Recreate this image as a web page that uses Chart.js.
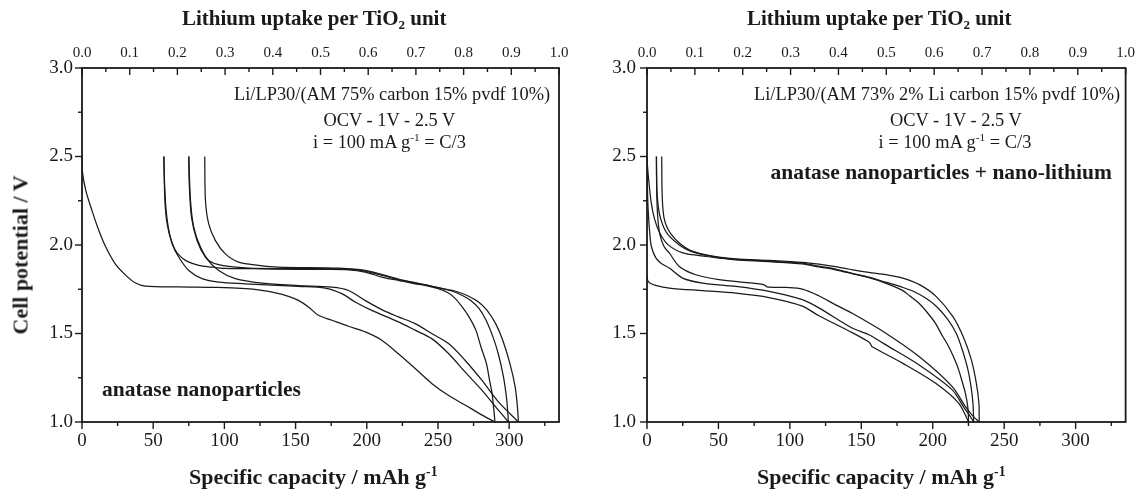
<!DOCTYPE html>
<html>
<head>
<meta charset="utf-8">
<title>Anatase TiO2 galvanostatic cycling</title>
<script src="https://cdn.jsdelivr.net/npm/chart.js@4.4.0/dist/chart.umd.min.js"></script>
<style>
  body { margin: 0; background: #fff; }
  #wrap { position: relative; width: 1141px; height: 494px; overflow: hidden;
          font-family: 'Liberation Serif', 'Times New Roman', serif; color: #1a1a1a; }
  canvas { position: absolute; left: 0; top: 0; }
  .lbl { position: absolute; white-space: nowrap; line-height: 1; }
  .lbl sub, .lbl sup { font-size: 0.62em; line-height: 0; }
  .lbl sub { vertical-align: -0.3em; }
  .lbl sup { vertical-align: 0.6em; }
</style>
</head>
<body>
<div id="wrap">
  <canvas id="leftChart" width="1141" height="494"></canvas>
  <canvas id="rightChart" width="1141" height="494"></canvas>
</div>
<script>
// --- Axis ranges / tick labels ---
const capacityMax = 335;               // 1 Li per TiO2 = 335 mAh/g
const capacityTicks = [0, 50, 100, 150, 200, 250, 300];
const uptakeTicks = [0.0, 0.1, 0.2, 0.3, 0.4, 0.5, 0.6, 0.7, 0.8, 0.9, 1.0];
const voltTicks = [1.0, 1.5, 2.0, 2.5, 3.0];

// --- Left panel: anatase nanoparticles (discharge D, charge C) ---
const leftD1Cap  = [0, 0.2, 2.6, 7.2, 11.9, 16.6, 23.6, 30.6, 37.6, 44.6, 68, 95, 115, 125, 136, 145, 152, 159, 166, 175.5, 187, 199, 210.5, 222, 234, 245.6, 257, 269, 281, 290];
const leftD1Volt = [2.5, 2.42, 2.31, 2.19, 2.08, 1.99, 1.89, 1.83, 1.785, 1.768, 1.763, 1.760, 1.753, 1.745, 1.73, 1.71, 1.687, 1.65, 1.603, 1.575, 1.541, 1.509, 1.462, 1.387, 1.302, 1.218, 1.152, 1.096, 1.039, 1.0];

const leftC1Cap  = [290, 289.6, 289, 288, 286.2, 284, 280.2, 276.6, 271.8, 267, 262.2, 257.4, 250.2, 240.9, 233.9, 222.2, 210.5, 198.8, 187.2, 170, 152, 120, 100, 91.4, 82, 72.7, 65.7, 61.5, 59.1, 58, 57.5];
const leftC1Volt = [1.0, 1.04, 1.086, 1.162, 1.237, 1.331, 1.424, 1.519, 1.594, 1.650, 1.697, 1.729, 1.753, 1.772, 1.781, 1.800, 1.819, 1.847, 1.860, 1.862, 1.862, 1.866, 1.868, 1.875, 1.885, 1.913, 1.969, 2.063, 2.194, 2.345, 2.5];

const leftD2Cap  = [57.5, 58.2, 59.8, 63.3, 68, 75, 84.3, 96, 114.7, 152, 170.8, 182.5, 191.8, 203.5, 222.2, 233.9, 245.6, 257.4, 269, 280.8, 290.5, 299.5];
const leftD2Volt = [2.5, 2.251, 2.119, 2.007, 1.931, 1.856, 1.810, 1.790, 1.781, 1.766, 1.757, 1.725, 1.678, 1.631, 1.566, 1.519, 1.471, 1.387, 1.283, 1.180, 1.086, 1.0];

const leftC2Cap  = [299.5, 298.3, 296, 292.3, 288.6, 283.8, 278.9, 272.8, 266.8, 259.7, 250.2, 240.9, 222.2, 198.8, 187.2, 152, 120, 114.7, 98.4, 89, 83.2, 78.5, 76.2, 75];
const leftC2Volt = [1.0, 1.124, 1.255, 1.387, 1.481, 1.575, 1.641, 1.688, 1.716, 1.740, 1.759, 1.774, 1.804, 1.853, 1.864, 1.866, 1.868, 1.871, 1.885, 1.913, 1.988, 2.100, 2.251, 2.5];

const leftD3Cap  = [75, 75.3, 76.9, 80.8, 86.7, 96, 107.7, 126.4, 152, 175.5, 187.2, 198.8, 210.5, 222.2, 233.9, 245.6, 257.4, 269, 280.8, 292.5, 306.5];
const leftD3Volt = [2.5, 2.35, 2.157, 2.025, 1.931, 1.856, 1.810, 1.785, 1.771, 1.762, 1.743, 1.687, 1.635, 1.594, 1.556, 1.500, 1.443, 1.349, 1.236, 1.114, 1.0];

const leftC3Cap  = [306.5, 305.8, 304.2, 300.5, 295.5, 290.5, 284.5, 278.5, 271.2, 261.9, 250.2, 240.9, 222.2, 198.8, 180.1, 138.1, 124.1, 110, 100.7, 93.7, 89, 86.7, 86.2];
const leftC3Volt = [1.0, 1.086, 1.199, 1.331, 1.462, 1.556, 1.631, 1.678, 1.712, 1.740, 1.759, 1.776, 1.808, 1.857, 1.869, 1.875, 1.885, 1.903, 1.950, 2.025, 2.119, 2.251, 2.5];

// --- Right panel: anatase nanoparticles + nano-lithium ---
const rightD1Cap  = [0, 0.5, 2, 6, 15.6, 38.9, 62.2, 85.4, 108.7, 120.3, 143.6, 155.3, 156.5, 157.6, 178.5, 201.8, 218.1, 225.1];
const rightD1Volt = [1.83, 1.80, 1.785, 1.772, 1.757, 1.742, 1.728, 1.703, 1.655, 1.60, 1.505, 1.452, 1.44, 1.425, 1.334, 1.22, 1.107, 1.0];

const rightC1Cap  = [225.1, 224.6, 222.8, 220.5, 218.1, 215, 211.1, 206.5, 201.8, 196, 190.2, 184, 178.5, 166.9, 155.3, 143.6, 132, 120.3, 108.7, 85.4, 62.2, 50.5, 41.5, 25.2, 14.7, 8.9, 5.4, 3, 1.4, 0.4, 0];
const rightC1Volt = [1.0, 1.08, 1.164, 1.23, 1.296, 1.36, 1.427, 1.49, 1.559, 1.62, 1.672, 1.712, 1.745, 1.785, 1.815, 1.838, 1.86, 1.876, 1.893, 1.906, 1.916, 1.926, 1.935, 1.955, 2.002, 2.068, 2.143, 2.237, 2.35, 2.44, 2.5];

const rightD2Cap  = [0, 0.3, 0.8, 2, 3.1, 6, 10, 15.6, 24.9, 38.9, 62.2, 85.4, 108.7, 120.3, 143.6, 155.3, 166.9, 190.2, 213.5, 222, 226, 228.6];
const rightD2Volt = [2.5, 2.33, 2.2, 2.06, 1.99, 1.93, 1.895, 1.870, 1.813, 1.785, 1.766, 1.738, 1.691, 1.645, 1.531, 1.493, 1.437, 1.324, 1.183, 1.08, 1.035, 1.0];

const rightC2Cap  = [228.6, 228.2, 226.8, 224.5, 221, 216.5, 210.5, 203, 195, 186, 178.5, 166.9, 155.3, 143.6, 132, 120.3, 108.7, 85.4, 62.2, 50.5, 38.9, 29.5, 22.6, 15.6, 12.2, 9.5, 8, 7, 6.7, 6.6];
const rightC2Volt = [1.0, 1.1, 1.2, 1.3, 1.4, 1.5, 1.58, 1.65, 1.70, 1.74, 1.762, 1.79, 1.818, 1.84, 1.864, 1.88, 1.897, 1.909, 1.919, 1.929, 1.946, 1.968, 2.0, 2.05, 2.09, 2.15, 2.21, 2.3, 2.4, 2.5];

const rightD3Cap  = [6.6, 6.8, 7.5, 9, 12, 15.6, 22.6, 34.2, 50.5, 73.8, 82, 84, 97, 108.7, 120.3, 132, 143.6, 166.9, 190.2, 213.5, 222.8, 228, 232.5];
const rightD3Volt = [2.5, 2.3, 2.16, 2.06, 1.99, 1.955, 1.879, 1.832, 1.804, 1.785, 1.775, 1.764, 1.760, 1.751, 1.713, 1.662, 1.614, 1.503, 1.371, 1.201, 1.088, 1.035, 1.0];

const rightC3Cap  = [232.5, 232.3, 230.5, 227, 221.2, 214, 202.3, 190.7, 179, 167.4, 155.3, 144, 132, 120.3, 108.7, 85.4, 62.2, 50.5, 38.9, 29.5, 22.6, 17, 14, 12, 11, 10.5, 10.3];
const rightC3Volt = [1.0, 1.107, 1.22, 1.352, 1.484, 1.597, 1.71, 1.776, 1.813, 1.832, 1.845, 1.86, 1.878, 1.892, 1.902, 1.913, 1.922, 1.932, 1.949, 1.973, 2.011, 2.06, 2.1, 2.15, 2.22, 2.32, 2.5];

const leftCurves = [
    [leftD1Cap, leftD1Volt], [leftC1Cap, leftC1Volt],
    [leftD2Cap, leftD2Volt], [leftC2Cap, leftC2Volt],
    [leftD3Cap, leftD3Volt], [leftC3Cap, leftC3Volt]
];
const rightCurves = [
    [rightD1Cap, rightD1Volt], [rightC1Cap, rightC1Volt],
    [rightD2Cap, rightD2Volt], [rightC2Cap, rightC2Volt],
    [rightD3Cap, rightD3Volt], [rightC3Cap, rightC3Volt]
];

const INK = '#1a1a1a';
const SERIF = "'Liberation Serif', 'Times New Roman', serif";
const PAGE_W = 1141, PAGE_H = 494;

// frame + Origin-style ticks (bottom/left outward, top inward, minor ticks half length)
const frameTicks = {
    id: 'frameTicks',
    afterDraw(chart) {
        const { ctx, chartArea: a, scales } = chart;
        const seg = (x1, y1, x2, y2) => { ctx.beginPath(); ctx.moveTo(x1, y1); ctx.lineTo(x2, y2); ctx.stroke(); };
        ctx.save();
        ctx.strokeStyle = INK;
        ctx.lineWidth = 1.4;
        for (let k = 0; k * 25 <= capacityMax; k++) {
            const px = scales.x.getPixelForValue(k * 25);
            seg(px, a.bottom, px, a.bottom + (k % 2 === 0 ? 7 : 4));
        }
        for (let k = 0; k <= 20; k++) {
            const px = scales.x2.getPixelForValue(k / 20);
            seg(px, a.top, px, a.top + (k % 2 === 0 ? 7 : 4));
        }
        for (let k = 0; k <= 8; k++) {
            const py = scales.y.getPixelForValue(1 + k * 0.25);
            seg(a.left - (k % 2 === 0 ? 7 : 4), py, a.left, py);
        }
        ctx.lineWidth = 1.8;
        ctx.strokeRect(a.left, a.top, a.right - a.left, a.bottom - a.top);
        ctx.restore();
    }
};

function makePanel(canvasId, curves, area, yPad) {
    const datasets = curves.map(([cap, volt]) => ({
        data: cap.map((x, i) => ({ x: x, y: volt[i] })),
        borderColor: INK,
        borderWidth: 1.25,
        pointRadius: 0,
        tension: 0.3,
        fill: false
    }));
    const tickFont = { family: SERIF, size: 19 };
    return new Chart(document.getElementById(canvasId), {
        type: 'line',
        data: { datasets },
        options: {
            responsive: false,
            animation: false,
            events: [],
            layout: { padding: { left: 0, top: 0, bottom: 0, right: PAGE_W - area.right } },
            plugins: { legend: { display: false }, tooltip: { enabled: false } },
            scales: {
                x: {
                    type: 'linear', position: 'bottom', min: 0, max: capacityMax,
                    afterFit: s => { s.height = PAGE_H - area.bottom; },
                    afterBuildTicks: s => { s.ticks = capacityTicks.map(v => ({ value: v })); },
                    ticks: { color: INK, font: tickFont, padding: 8, maxRotation: 0, callback: v => String(v) },
                    grid: { display: false, drawTicks: false },
                    border: { display: false }
                },
                x2: {
                    type: 'linear', position: 'top', min: 0, max: 1,
                    afterFit: s => { s.height = area.top; },
                    afterBuildTicks: s => { s.ticks = uptakeTicks.map(v => ({ value: v })); },
                    ticks: { color: INK, font: { family: SERIF, size: 15 }, padding: 6, maxRotation: 0, callback: v => v.toFixed(1) },
                    grid: { display: false, drawTicks: false },
                    border: { display: false }
                },
                y: {
                    type: 'linear', position: 'left', min: 1, max: 3,
                    afterFit: s => { s.width = area.left; },
                    afterBuildTicks: s => { s.ticks = voltTicks.map(v => ({ value: v })); },
                    ticks: { color: INK, font: tickFont, padding: yPad, callback: v => v.toFixed(1) },
                    grid: { display: false, drawTicks: false },
                    border: { display: false }
                }
            }
        },
        plugins: [frameTicks]
    });
}

makePanel('leftChart', leftCurves, { left: 82, right: 559, top: 68, bottom: 422 }, 9);
makePanel('rightChart', rightCurves, { left: 647, right: 1127, top: 68, bottom: 422 }, 11);

// --- Titles and annotations (real text, with sub/superscripts) ---
const wrap = document.getElementById('wrap');
function addLabel(html, x, baseline, size, bold, align) {
    const el = document.createElement('div');
    el.className = 'lbl';
    el.innerHTML = html;
    el.style.fontSize = size + 'px';
    el.style.fontWeight = bold ? 'bold' : 'normal';
    wrap.appendChild(el);
    const w = el.offsetWidth;
    const left = align === 'center' ? x - w / 2 : align === 'right' ? x - w : x;
    el.style.left = left + 'px';
    el.style.top = (baseline - 0.8375 * size) + 'px';
    return el;
}

const topTitle = 'Lithium uptake per TiO<sub>2</sub> unit';
const bottomTitle = 'Specific capacity / mAh g<sup>-1</sup>';
const rateText = 'i = 100 mA g<sup>-1</sup> = C/3';

addLabel(topTitle, 314, 26, 21, true, 'center');
addLabel(bottomTitle, 313, 484, 22, true, 'center');
addLabel('Li/LP30/(AM 75% carbon 15% pvdf 10%)', 550, 100, 18.4, false, 'right');
addLabel('OCV - 1V - 2.5 V', 389.5, 126.5, 18.4, false, 'center');
addLabel(rateText, 389.5, 148.5, 18.4, false, 'center');
addLabel('anatase nanoparticles', 102, 397, 21.5, true, 'left');

addLabel(topTitle, 879, 26, 21, true, 'center');
addLabel(bottomTitle, 881, 484, 22, true, 'center');
addLabel('Li/LP30/(AM 73% 2% Li carbon 15% pvdf 10%)', 1120, 100, 18.4, false, 'right');
addLabel('OCV - 1V - 2.5 V', 956, 126.5, 18.4, false, 'center');
addLabel(rateText, 955, 148.5, 18.4, false, 'center');
addLabel('anatase nanoparticles + nano-lithium', 941, 180, 21.5, true, 'center');

// rotated y-axis title
const yTitle = addLabel('Cell potential / V', 0, 0, 22, true, 'left');
const yw = yTitle.offsetWidth;
yTitle.style.left = (20.6 - yw / 2) + 'px';
yTitle.style.top = (255 - 11) + 'px';
yTitle.style.transform = 'rotate(-90deg)';
</script>
</body>
</html>
